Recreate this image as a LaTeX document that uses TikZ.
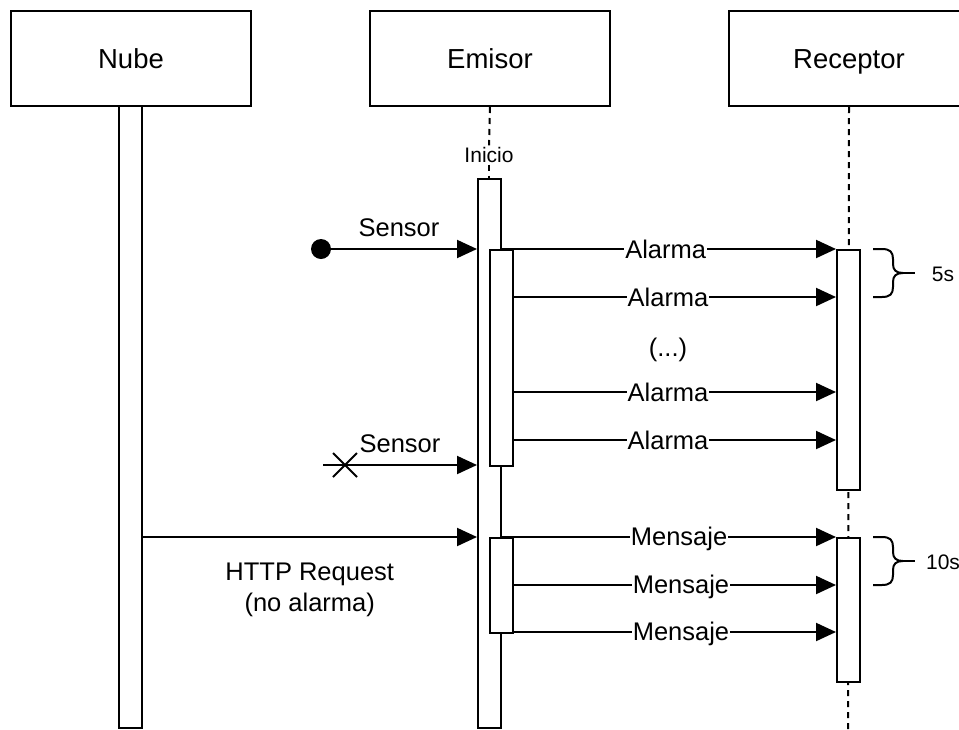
\documentclass[tikz,border=0pt]{standalone}
\usepackage{fontspec}
\setmainfont{Liberation Sans}
\usetikzlibrary{arrows.meta}
\begin{document}
\begin{tikzpicture}[x=1pt,y=-1pt, line width=2pt,
  headbox/.style={draw, line width=2pt, fill=white, minimum width=240pt,
    minimum height=95pt, inner sep=0pt, anchor=north west,
    text height=26pt, text depth=6pt,
    font=\fontsize{27.5}{30}\selectfont},
  bar/.style={draw, line width=2pt, fill=white, minimum width=23pt,
    inner sep=0pt, anchor=north},
  lifeline/.style={line width=2pt, dash pattern=on 6pt off 5pt},
  msg/.style={-{Triangle[length=20pt,width=18pt]}, line width=2pt},
  lbl/.style={fill=white, inner sep=1pt, font=\fontsize{25.5}{31}\selectfont},
  small/.style={font=\fontsize{21}{24}\selectfont, inner sep=1pt}
]
\useasboundingbox (0,0) rectangle (959,729);
\clip (0,0) rectangle (959,729);

% participant heads
\node[headbox] (nube) at (10,10) {Nube};
\node[headbox] (emisor) at (369,10) {Emisor};
\node[headbox] (receptor) at (728,10) {Receptor};

% lifelines
\node[small, fill=white] (inicio) at (489,155) {Inicio};
\draw[lifeline] (emisor.south) -- (inicio.north);
\draw[lifeline] (inicio.south) -- (489,178);
\draw[lifeline] (receptor.south) -- (848,729);

% activation bars
\node[bar, minimum height=622pt] (n1) at (130,105) {};
\node[bar, minimum height=549pt] (e1) at (489.5,178) {};
\node[bar, minimum height=216pt] (e2) at (501,249) {};
\node[bar, minimum height=95pt]  (e3) at (501,537) {};
\node[bar, minimum height=240pt] (r1) at (848.5,249) {};
\node[bar, minimum height=144pt] (r2) at (848.5,537) {};

% incoming sensor events
\fill (321,249) circle (10pt) coordinate (dot);
\draw[msg] (dot) -- (dot -| e1.west)
  node[midway, above=10pt, lbl, fill=none] {Sensor};
\coordinate (lost) at (323,465);
\draw[msg] (lost) -- (lost -| e1.west)
  node[midway, above=10pt, lbl, fill=none] (s2) {Sensor};
\draw (333,453) -- (357,477) (333,477) -- (357,453);

% alarm messages
\coordinate (a1) at (e2.north -| e1.east);
\draw[msg] (a1) -- (a1 -| r1.west) node[lbl, pos=0.49] {Alarma};
\foreach \yy in {297,392,440} {
  \coordinate (a) at (513,\yy);
  \draw[msg] (a) -- (a -| r1.west) node[lbl, pos=0.48] {Alarma};
}
\node[lbl, fill=none] (dots) at (668,350) {(...)};

% request from the cloud
\coordinate (h) at (n1.east |- e3.north);
\draw[msg] (h) -- (h -| e1.west)
  node[midway, below=24pt, lbl, fill=none, align=center] {HTTP Request\\(no alarma)};

% message burst
\coordinate (m1) at (e3.north -| e1.east);
\draw[msg] (m1) -- (m1 -| r2.west) node[lbl, pos=0.53, yshift=-2pt] {Mensaje};
\foreach \yy in {585,632} {
  \coordinate (m) at (513,\yy);
  \draw[msg] (m) -- (m -| r2.west) node[lbl, pos=0.52, yshift=-2pt] {Mensaje};
}

% timing braces
\foreach \yt/\txt/\tx in {249/5s/943, 537/10s/943} {
  \draw (873,\yt) -- (882,\yt)
    .. controls (890,\yt) and (893,\yt+3) .. (893,\yt+10) -- (893,\yt+15)
    .. controls (893,\yt+21) and (896,\yt+24) .. (903,\yt+24)
    .. controls (896,\yt+24) and (893,\yt+27) .. (893,\yt+33) -- (893,\yt+38)
    .. controls (893,\yt+45) and (890,\yt+48) .. (882,\yt+48) -- (873,\yt+48);
  \draw (903,\yt+24) -- (915,\yt+24);
  \node[small] at (\tx,\yt+25) {\txt};
}
\end{tikzpicture}
\end{document}
